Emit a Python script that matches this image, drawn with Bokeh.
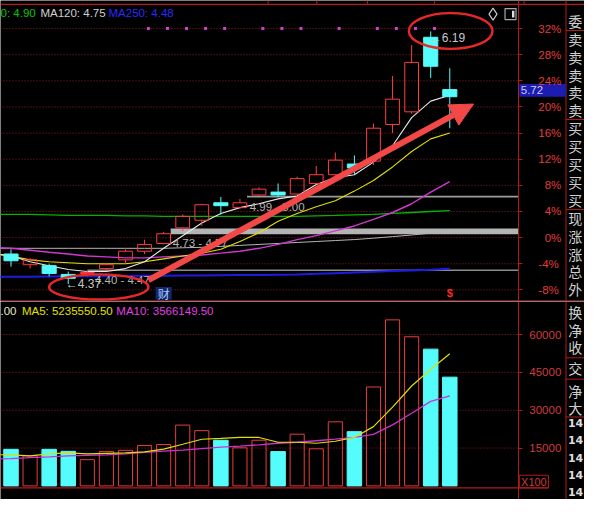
from bokeh.plotting import figure
from bokeh.models import (Range1d, LinearAxis, FixedTicker, Arrow, NormalHead,
                          NumeralTickFormatter)
from bokeh.layouts import column
from bokeh.embed import file_html
from bokeh.resources import INLINE
from bokeh.core.properties import value

# ---------------- data ----------------
bar_idx = list(range(24))
opens  = [4.587, 4.510, 4.503, 4.440, 4.447, 4.482, 4.545, 4.607, 4.663, 4.775, 4.830, 4.956,
          4.921, 5.012, 5.033, 5.019, 5.095, 5.158, 5.235, 5.256, 5.520, 5.611, 6.148, 5.771]
highs  = [4.621, 4.559, 4.517, 4.461, 4.468, 4.524, 4.621, 4.691, 4.747, 4.872, 4.949, 4.998,
          4.984, 5.067, 5.095, 5.144, 5.221, 5.318, 5.297, 5.527, 5.869, 6.092, 6.19, 5.925]
lows   = [4.496, 4.482, 4.426, 4.37, 4.426, 4.468, 4.517, 4.587, 4.656, 4.754, 4.789, 4.872,
          4.914, 5.005, 4.998, 5.012, 5.088, 5.151, 5.158, 5.228, 5.458, 5.597, 5.855, 5.493]
closes = [4.538, 4.545, 4.447, 4.412, 4.454, 4.510, 4.607, 4.656, 4.733, 4.858, 4.942, 4.935,
          4.956, 5.054, 5.012, 5.130, 5.158, 5.263, 5.207, 5.493, 5.702, 5.967, 5.939, 5.72]
volumes = [14500, 11900, 14500, 13700, 10400, 13600, 14100, 16000, 16400, 24100, 21900, 18100,
           15100, 18100, 13600, 20500, 14700, 25400, 21500, 39200, 65800, 59100, 54200, 43100]

ma_idx = list(range(-1, 24))
ma5   = [4.594, 4.573, 4.531, 4.503, 4.475, 4.461, 4.461, 4.482, 4.531, 4.628, 4.719, 4.810, 4.879,
         4.921, 4.949, 4.984, 5.005, 5.088, 5.137, 5.158, 5.249, 5.367, 5.569, 5.688, 5.730]
ma10  = [4.587, 4.573, 4.545, 4.531, 4.524, 4.517, 4.517, 4.517, 4.531, 4.552, 4.573, 4.593, 4.621,
         4.677, 4.740, 4.823, 4.879, 4.928, 4.970, 5.040, 5.116, 5.214, 5.325, 5.416, 5.458]
ma20  = [4.635, 4.628, 4.614, 4.600, 4.587, 4.573, 4.566, 4.559, 4.559, 4.566, 4.573, 4.580, 4.593,
         4.607, 4.628, 4.656, 4.691, 4.719, 4.754, 4.789, 4.837, 4.886, 4.949, 5.033, 5.109]
ma60  = [4.872, 4.872, 4.872, 4.869, 4.865, 4.865, 4.865, 4.862, 4.862, 4.858, 4.858, 4.858, 4.858,
         4.858, 4.858, 4.858, 4.858, 4.862, 4.865, 4.869, 4.872, 4.879, 4.886, 4.893, 4.900]
ma120 = [4.628, 4.628, 4.628, 4.628, 4.628, 4.628, 4.628, 4.628, 4.628, 4.628, 4.632, 4.635, 4.642,
         4.649, 4.656, 4.663, 4.670, 4.677, 4.684, 4.691, 4.701, 4.712, 4.724, 4.737, 4.750]
ma250 = [4.422, 4.423, 4.424, 4.425, 4.426, 4.427, 4.428, 4.429, 4.430, 4.431, 4.432, 4.433, 4.434,
         4.435, 4.436, 4.438, 4.440, 4.444, 4.449, 4.454, 4.459, 4.464, 4.469, 4.474, 4.480]

vol_ma5  = [12400, 12300, 11900, 12700, 13100, 12700, 12900, 13100, 13500, 14600, 16500, 18500, 18800,
            19200, 19200, 17300, 17300, 16900, 17700, 19200, 23500, 31200, 39600, 46200, 52355.505]
vol_ma10 = [10700, 10800, 11200, 11500, 11900, 12100, 12300, 12700, 13300, 13800, 14200, 14800, 15400,
            15800, 16300, 16900, 17300, 17900, 18500, 19200, 20400, 24200, 28800, 33500, 35661.495]

band_lo = [4.99, 4.73, 4.40]
band_hi = [5.00, 4.77, 4.47]
band_from = [12.37, 8.37, 4.0]

signal_idx = [7, 8, 9, 10, 11, 13, 14, 15, 17, 19, 20, 21, 22]

pct_ticks = [-8, -4, 0, 4, 8, 12, 16, 20, 24, 28, 32]
pct_labels = ["-8%", "-4%", "\u20070%", "\u20074%", "\u20078%", "12%", "16%", "20%", "24%", "28%", "32%"]
vol_ticks = [15000, 30000, 45000, 60000]

side_top = ["委", "卖", "卖", "卖", "卖", "卖", "买", "买", "买", "买", "买", "现", "涨", "涨", "总", "外"]
side_bottom = ["换", "净", "收", "交", "净", "大", "14", "14", "14", "14", "14"]

# ---------------- geometry helpers (reference pixel -> data) ----------------
BASE = 4.705
def px(xr):
    return (xr - 10.8) / 19.6
def py(yr):
    return BASE * (1 + (245 - yr) / 675)
def vy(yr):
    return (501 - yr) / 39 * 15000

W, H_PRICE, H_VOL = 584, 301, 198
RED = "#ff3c3c"
CYAN = "#54fcfc"
FRAME = "#b41a1a"
GRIDC = "#8c2222"
LABELC = "#e03c3c"
FONT = "Liberation Sans"
CJK = "Noto Sans CJK SC"

def txt(fig, x, y, s, color, size="11.5px", align="left", baseline="middle", font=FONT, style="normal"):
    fig.text(x=[x], y=[y], text=[s], text_color=color, text_font=value(font),
             text_font_size=size, text_align=align, text_baseline=baseline,
             text_font_style=style)

def base_fig(height, yrange):
    f = figure(width=W, height=height, x_range=xr, y_range=yrange, output_backend="svg",
               toolbar_location=None, x_axis_location=None, y_axis_location=None,
               background_fill_color="black", border_fill_color="black",
               outline_line_color=None, min_border=0)
    f.min_border_left = f.min_border_right = f.min_border_top = f.min_border_bottom = 0
    f.xgrid.visible = False
    f.ygrid.visible = False
    return f

xr = Range1d(px(0), px(600))

# ================= price panel =================
p = base_fig(H_PRICE, Range1d(py(311), py(0)))
p.extra_y_ranges = {"pct": Range1d((245 - 311) / 6.75, 245 / 6.75)}

# dotted grid
gy = [BASE * (1 + t / 100) for t in pct_ticks]
p.segment(x0=[px(0)] * len(gy), y0=gy, x1=[px(532)] * len(gy), y1=gy,
          line_color=GRIDC, line_dash="1 2", line_width=1)

# signal dots on the top grid line
p.scatter(x=[i + 0.2 for i in signal_idx], y=[BASE * 1.32] * len(signal_idx),
          marker="square", size=3, fill_color="#d040d0", line_color=None)

# support / resistance bands
p.segment(x0=[band_from[0]], y0=[band_hi[0]], x1=[px(532)], y1=[band_hi[0]],
          line_color="#9c9c9c", line_width=1.6)
p.quad(left=[band_from[1]], right=[px(532)], bottom=[band_lo[1]], top=[band_hi[1]],
       fill_color="#b4b4b4", line_color=None)
p.segment(x0=[band_from[2]], y0=[band_hi[2]], x1=[px(532)], y1=[band_hi[2]],
          line_color="#8c8c8c", line_width=1.4)

# moving averages
p.line(ma_idx, ma250, line_color="#1c1ce0", line_width=2)
p.line(ma_idx, ma120, line_color="#b4b4b4", line_width=1)
p.line(ma_idx, ma60, line_color="#00b400", line_width=1.3)
p.line(ma_idx, ma20, line_color="#d038d0", line_width=1.4)
p.line(ma_idx, ma10, line_color="#e0e000", line_width=1.1)
p.line(ma_idx, ma5, line_color="#e8e8e8", line_width=1.1)

# candles
up = [c >= o for o, c in zip(opens, closes)]
ux = [i for i, u in zip(bar_idx, up) if u]
dx = [i for i, u in zip(bar_idx, up) if not u]
uo = [o for o, u in zip(opens, up) if u]
uc = [c for c, u in zip(closes, up) if u]
uh = [h for h, u in zip(highs, up) if u]
ul = [l for l, u in zip(lows, up) if u]
do = [o for o, u in zip(opens, up) if not u]
dc = [c for c, u in zip(closes, up) if not u]
dh = [h for h, u in zip(highs, up) if not u]
dl = [l for l, u in zip(lows, up) if not u]

p.segment(x0=ux, y0=uc, x1=ux, y1=uh, line_color=RED, line_width=1)
p.segment(x0=ux, y0=ul, x1=ux, y1=uo, line_color=RED, line_width=1)
p.vbar(x=ux, bottom=uo, top=uc, width=0.72, fill_alpha=0, line_color=RED, line_width=1)
p.segment(x0=dx, y0=dl, x1=dx, y1=dh, line_color=CYAN, line_width=1)
p.vbar(x=dx, bottom=dc, top=do, width=0.74, fill_color=CYAN, line_color=CYAN, line_width=1)

# band labels
band_label_ref = [(256, 207), (177, 244), (97, 283)]
for lo, hi, (lx, ly) in zip(band_lo, band_hi, band_label_ref):
    txt(p, px(lx), py(ly), f"{lo:.2f} - {hi:.2f}", "#b4b4b4", baseline="top")

# extreme labels
lo_i = lows.index(min(lows))
hi_i = highs.index(max(highs))
txt(p, lo_i - 0.13, lows[lo_i], f"\u2190{lows[lo_i]:.2f}", "#c8c8c8", size="12px")
txt(p, hi_i - 0.05, highs[hi_i], f"\u2190{highs[hi_i]:.2f}", "#c8c8c8", size="12px", baseline="top")

# markers below candles
p.quad(left=[8 - 0.42], right=[8 + 0.42], bottom=[py(309)], top=[py(296)],
       fill_color="#14286e", line_color=None)
txt(p, 8, py(302.5), "财", "#a8c8ff", size="12px", align="center", font=CJK)
txt(p, 23, py(302.5), "$", "#ff2828", size="11px", align="center", style="bold")

# legend line
txt(p, px(0), py(13), f"0: {ma60[-1]:.2f}", "#00c800")
txt(p, px(41), py(13), f"MA120: {ma120[-1]:.2f}", "#d0d0d0")
txt(p, px(111), py(13), f"MA250: {ma250[-1]:.2f}", "#2a2aff")

# icons top right
p.scatter(x=[px(506)], y=[py(14)], marker="diamond", size=12, fill_color=None,
          line_color="#c8c8c8", line_width=1.2)
p.scatter(x=[px(524)], y=[py(14)], marker="square", size=11, fill_color=None,
          line_color="#a8a8a8", line_width=1.2)
p.quad(left=[px(525.5)], right=[px(528)], bottom=[py(17.5)], top=[py(10.5)],
       fill_color="#e0e0e0", line_color=None)

# frame lines
p.segment(x0=[px(0)], y0=[py(4)], x1=[px(600)], y1=[py(4)], line_color=FRAME, line_width=1.2)
p.segment(x0=[px(0)], y0=[py(310.5)], x1=[px(600)], y1=[py(310.5)], line_color=FRAME, line_width=1.4)
p.segment(x0=[px(581)], y0=[py(0)], x1=[px(581)], y1=[py(311)], line_color=FRAME, line_width=1)
tops = [275, 325, 377, 446, 538]
p.segment(x0=[px(t) for t in tops], y0=[py(0)] * 5, x1=[px(t) for t in tops], y1=[py(4)] * 5,
          line_color=FRAME, line_width=1)

# last price box
last = closes[-1]
box_h = 13 * BASE / 675
p.quad(left=[px(533)], right=[px(581)], bottom=[last], top=[last + box_h],
       fill_color="#1c1cb0", line_color=None)
txt(p, px(534.5), last + box_h / 2, f"{last:.2f}", "#c8c8ff", size="11.5px")

# side panel (order book captions)
sy_top = [21 + 18.5 * k for k in range(len(side_top))]
for s, yy in zip(side_top, sy_top):
    txt(p, px(590.5), py(yy), s, "#cfcfcf", size="14px", align="center", font=CJK)
for yy in [31, 123, 216]:
    p.segment(x0=[px(581)], y0=[py(yy)], x1=[px(600)], y1=[py(yy)], line_color=FRAME, line_width=1)

# annotations: ellipses and arrow
p.ellipse(x=[px(101)], y=[py(296)], width=[102 / 19.6], height=[26 * BASE / 675],
          fill_color=None, line_color="#e82828", line_width=2.4)
p.ellipse(x=[px(462.5)], y=[py(31.5)], width=[86 / 19.6], height=[37 * BASE / 675],
          fill_color=None, line_color="#e82828", line_width=2.4)
p.add_layout(Arrow(x_start=px(152), y_start=py(289), x_end=px(486), y_end=py(107),
                   line_color="#f24848", line_width=6,
                   end=NormalHead(size=23, fill_color="#f24848", line_color="#f24848")))

# right axis (percent)
ax = LinearAxis(y_range_name="pct", ticker=FixedTicker(ticks=pct_ticks), fixed_location=px(532))
ax.major_label_overrides = {t: l for t, l in zip(pct_ticks, pct_labels)}
ax.axis_line_color = FRAME
ax.major_tick_line_color = FRAME
ax.major_tick_out = 4
ax.major_tick_in = 0
ax.minor_tick_line_color = None
ax.major_label_text_color = LABELC
ax.major_label_text_font = FONT
ax.major_label_text_font_size = "11.5px"
ax.major_label_standoff = 16
p.add_layout(ax, "right")

# ================= volume panel =================
v = base_fig(H_VOL, Range1d(vy(515), vy(311)))

v.segment(x0=[px(0)] * len(vol_ticks), y0=vol_ticks, x1=[px(532)] * len(vol_ticks), y1=vol_ticks,
          line_color=GRIDC, line_dash="1 2", line_width=1)

uv = [vv for vv, u in zip(volumes, up) if u]
dv = [vv for vv, u in zip(volumes, up) if not u]
v.vbar(x=ux, bottom=0, top=uv, width=0.74, fill_alpha=0, line_color="#e83c3c", line_width=1)
v.vbar(x=dx, bottom=0, top=dv, width=0.76, fill_color=CYAN, line_color=CYAN, line_width=1)

v.line(ma_idx, vol_ma10, line_color="#d030d0", line_width=1.3)
v.line(ma_idx, vol_ma5, line_color="#e0e000", line_width=1.2)

txt(v, px(0), vy(321), ".00", "#e8e8c0")
txt(v, px(22), vy(321), f"MA5: {vol_ma5[-1] * 100:.2f}", "#e0e000")
txt(v, px(119), vy(321), f"MA10: {vol_ma10[-1] * 100:.2f}", "#e040e0")

v.segment(x0=[px(0)], y0=[vy(503)], x1=[px(563)], y1=[vy(503)], line_color=FRAME, line_width=1.4)
v.segment(x0=[px(581)], y0=[vy(311)], x1=[px(581)], y1=[vy(515)], line_color=FRAME, line_width=1)
v.quad(left=[px(533)], right=[px(563)], bottom=[vy(503)], top=[vy(490)],
       fill_color=None, line_color=FRAME, line_width=1)
txt(v, px(548), vy(496.5), "X100", "#c83c3c", size="11px", align="center")

sy_bot = [322, 340, 358, 380, 403, 421, 436, 454, 472, 490, 507]
for s, yy in zip(side_bottom, sy_bot):
    if s.isdigit():
        txt(v, px(583), vy(yy), s, "#dcdcdc", size="11px", style="bold", font="DejaVu Sans")
    else:
        txt(v, px(590.5), vy(yy), s, "#cfcfcf", size="14px", align="center", font=CJK)
for yy in [369, 391, 430]:
    v.segment(x0=[px(581)], y0=[vy(yy)], x1=[px(600)], y1=[vy(yy)], line_color=FRAME, line_width=1)

vax = LinearAxis(ticker=FixedTicker(ticks=vol_ticks), fixed_location=px(532),
                 formatter=NumeralTickFormatter(format="0"))
vax.axis_line_color = FRAME
vax.major_tick_line_color = FRAME
vax.major_tick_out = 4
vax.major_tick_in = 0
vax.minor_tick_line_color = None
vax.major_label_text_color = "#d03c3c"
vax.major_label_text_font = FONT
vax.major_label_text_font_size = "11.5px"
vax.major_label_standoff = 7
v.add_layout(vax, "right")

layout = column(p, v)
open("out.html", "w").write(file_html(layout, INLINE))
